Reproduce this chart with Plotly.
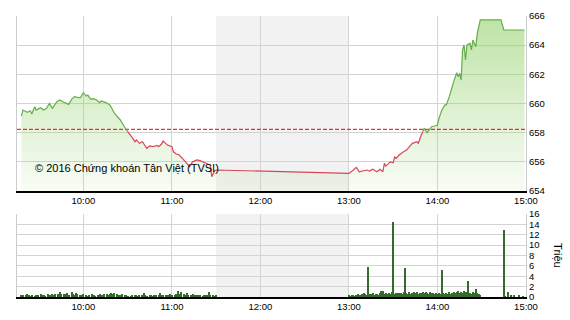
import pandas as pd
import plotly.graph_objects as go

DAY = "2016-06-01 "

# ---- price (index) series ----
price_times = [
    "09:18", "09:19", "09:22", "09:24", "09:25", "09:27", "09:28", "09:31", "09:33", "09:35",
    "09:37", "09:39", "09:42", "09:44", "09:46", "09:50", "09:52", "09:54", "09:56", "09:58",
    "10:00", "10:02", "10:03", "10:05", "10:07", "10:09", "10:11", "10:12", "10:15", "10:18",
    "10:21", "10:25", "10:28", "10:30", "10:31", "10:33", "10:35", "10:36", "10:38", "10:40",
    "10:43", "10:45", "10:47", "10:50", "10:51", "10:53", "10:54", "10:56", "10:57", "11:00",
    "11:01", "11:03", "11:05", "11:08", "11:10", "11:12", "11:14", "11:17", "11:19", "11:21",
    "11:23", "11:26", "11:27", "11:29", "11:30",
    "13:00", "13:03", "13:05", "13:07", "13:10", "13:12", "13:14", "13:16", "13:19", "13:21",
    "13:23", "13:24", "13:25", "13:28", "13:30", "13:31", "13:32", "13:34", "13:37", "13:39",
    "13:41", "13:43", "13:46", "13:47", "13:49", "13:50", "13:51", "13:53", "13:56", "13:58",
    "14:00", "14:01", "14:03", "14:05", "14:06", "14:08", "14:09", "14:10", "14:11", "14:13",
    "14:14", "14:15", "14:16", "14:17", "14:18", "14:19", "14:20", "14:22", "14:23", "14:24",
    "14:26", "14:27", "14:29", "14:43", "14:45", "14:59",
]
price_values = [
    659.14, 659.55, 659.40, 659.50, 659.28, 659.78, 659.55, 659.71, 659.55, 659.67,
    660.01, 659.67, 660.12, 660.24, 660.12, 659.94, 660.29, 660.47, 660.42, 660.40,
    660.74, 660.51, 660.58, 660.29, 660.33, 660.24, 660.06, 660.17, 660.08, 659.90,
    659.33, 658.87, 658.37, 658.07, 657.96, 657.68, 657.38, 657.50, 657.27, 657.38,
    656.93, 657.09, 657.04, 657.13, 657.04, 657.22, 657.43, 657.22, 657.15, 657.04,
    656.69, 656.54, 656.47, 656.13, 655.90, 655.67, 656.00, 656.13, 656.08, 656.00,
    655.90, 655.78, 654.98, 655.39, 655.44,
    655.21, 655.44, 655.62, 655.32, 655.39, 655.44, 655.37, 655.49, 655.32, 655.49,
    655.32, 655.90, 655.71, 656.00, 655.94, 656.35, 656.24, 656.47, 656.69, 656.81,
    657.04, 657.27, 657.38, 657.27, 657.84, 658.07, 658.30, 658.00, 658.41, 658.46,
    658.52, 658.98, 659.55, 659.90, 659.90, 660.47, 660.93, 661.15, 661.50, 662.11,
    661.84, 662.07, 661.61, 663.67, 664.01, 662.98, 664.01, 664.13, 663.67, 664.35,
    663.90, 664.81, 665.73, 665.73, 665.04, 665.04,
]
reference_value = 658.23

# ---- volume (million shares) ----
vol_morning_start = "09:18"
vol_morning = [
    0.3, 0.4, 0.0, 0.3, 0.5, 0.3, 0.2, 0.4, 0.0, 0.2,
    0.4, 0.3, 0.0, 0.5, 0.3, 0.4, 0.2, 0.0, 0.5, 0.4,
    0.3, 0.6, 0.4, 0.5, 0.0, 0.6, 0.9, 0.5, 0.0, 0.6,
    0.5, 0.7, 0.4, 0.0, 1.0, 0.5, 0.4, 0.8, 0.5, 0.0,
    0.4, 0.3, 0.5, 0.0, 0.3, 0.2, 0.4, 0.0, 0.5, 0.3,
    0.2, 0.0, 0.3, 0.5, 0.4, 0.3, 0.6, 0.0, 0.5, 0.3,
    0.6, 0.8, 0.5, 0.7, 0.0, 0.5, 0.3, 0.4, 0.6, 0.0,
    0.3, 0.4, 0.2, 0.0, 0.2, 0.3, 0.0, 0.3, 0.4, 0.2,
    0.3, 0.0, 0.3, 0.7, 0.3, 0.2, 0.0, 0.3, 0.3, 0.2,
    0.4, 0.3, 0.0, 0.3, 0.8, 0.4, 0.3, 0.0, 0.3, 0.4,
    0.3, 0.5, 0.4, 0.0, 0.4, 0.6, 1.1, 0.5, 1.0, 0.0,
    0.5, 0.3, 0.8, 0.4, 0.0, 0.3, 0.6, 0.4, 0.3, 0.0,
    0.3, 0.4, 0.0, 0.2, 0.3, 0.4, 0.3, 1.0, 0.3, 0.0,
    0.3, 0.2, 0.4,
]
vol_afternoon_start = "13:00"
vol_afternoon = [
    0.3, 0.2, 0.3, 0.4, 0.2, 0.3, 0.5, 0.3, 0.4, 0.6,
    0.8, 0.5, 0.4, 5.8, 0.6, 0.5, 0.7, 0.4, 0.6, 0.5,
    0.4, 0.7, 1.2, 1.1, 0.6, 0.8, 0.5, 0.7, 0.6, 0.9,
    14.45, 0.6, 0.8, 0.7, 0.7, 0.8, 0.6, 0.9, 5.6, 0.7,
    0.5, 0.9, 0.6, 0.8, 1.0, 0.7, 0.9, 0.6, 0.8, 0.7,
    0.9, 0.7, 1.0, 0.8, 0.6, 0.9, 0.7, 0.8, 0.6, 0.7,
    0.6, 0.8, 0.5, 5.2, 0.7, 0.6, 0.8, 0.5, 0.9, 0.6,
    0.7, 1.0, 0.8, 0.9, 1.1, 0.7, 1.0, 0.8, 1.2, 0.9,
    1.0, 3.1, 0.8, 0.6, 1.0, 0.7, 1.55, 0.8, 0.5, 0.4,
]
vol_close_times = ["14:45", "14:46", "14:48", "14:50", "14:52", "14:55", "14:58"]
vol_close = [12.9, 0.2, 1.0, 0.3, 0.3, 0.3, 0.2]

hour_ticks = ["10:00", "11:00", "12:00", "13:00", "14:00", "15:00"]
price_ticks = [654, 656, 658, 660, 662, 664, 666]
volume_ticks = [0, 2, 4, 6, 8, 10, 12, 14, 16]

# ---- build ----
px = pd.to_datetime([DAY + t for t in price_times])
pv = price_values
n = len(pv)
above = [v >= reference_value for v in pv]
green_y, red_y = [], []
for i in range(n):
    g = above[i] or (i > 0 and above[i - 1]) or (i < n - 1 and above[i + 1])
    green_y.append(pv[i] if g else None)
    red_y.append(pv[i] if not above[i] else None)

vx = list(pd.date_range(DAY + vol_morning_start, periods=len(vol_morning), freq="min"))
vx += list(pd.date_range(DAY + vol_afternoon_start, periods=len(vol_afternoon), freq="min"))
vx += list(pd.to_datetime([DAY + t for t in vol_close_times]))
vy = vol_morning + vol_afternoon + vol_close

FONT = "Liberation Sans, Arial, sans-serif"
GRID = "#d4d4d4"
TICKFONT = dict(family=FONT, size=9.5, color="#000")
x_range = [DAY + "09:15", DAY + "15:00"]
tickvals = [DAY + t for t in hour_ticks]

fig = go.Figure()
fig.add_trace(go.Scatter(
    x=px, y=pv, mode="lines", line=dict(width=0), fill="tozeroy",
    fillgradient=dict(type="vertical", start=654, stop=666,
                      colorscale=[[0, "rgba(150,210,110,0.06)"], [1, "rgba(150,210,110,0.62)"]]),
    hoverinfo="skip", showlegend=False, xaxis="x", yaxis="y"))
fig.add_trace(go.Scatter(
    x=x_range, y=[reference_value, reference_value], mode="lines",
    line=dict(color="#ee0000", width=1, dash="4px,2px"), showlegend=False,
    xaxis="x", yaxis="y"))
fig.add_trace(go.Scatter(x=px, y=red_y, mode="lines", connectgaps=False,
                         line=dict(color="#d8455c", width=1.2), showlegend=False,
                         xaxis="x", yaxis="y"))
fig.add_trace(go.Scatter(x=px, y=green_y, mode="lines", connectgaps=False,
                         line=dict(color="#64ad4b", width=1.2), showlegend=False,
                         xaxis="x", yaxis="y"))
fig.add_trace(go.Bar(x=vx, y=vy, width=40000, marker=dict(color="#356b2c", line=dict(width=0)),
                     showlegend=False, xaxis="x2", yaxis="y2"))

# lunch-break shading
for xr, yref in [("x", "y domain"), ("x2", "y2 domain")]:
    fig.add_shape(type="rect", xref=xr, yref=yref,
                  x0=DAY + "11:30", x1=DAY + "13:00", y0=0, y1=1,
                  fillcolor="#f2f2f2", line=dict(width=0), layer="below")

axis_common = dict(range=x_range, type="date", tickvals=tickvals, ticktext=hour_ticks,
                   showgrid=True, gridcolor=GRID, gridwidth=1, showline=True,
                   linecolor="black", linewidth=1.5, ticks="", zeroline=False,
                   automargin=False, tickfont=TICKFONT)
yaxis_common = dict(side="right", showgrid=True, gridcolor=GRID, zeroline=False,
                    showline=True, mirror=True, linecolor="#cccccc", linewidth=1,
                    ticks="", automargin=False, tickfont=TICKFONT)
fig.update_layout(
    width=570, height=320, margin=dict(l=17, r=44, t=16, b=23, autoexpand=False),
    paper_bgcolor="white", plot_bgcolor="white", bargap=0,
    xaxis=dict(domain=[0, 1], anchor="y", **axis_common),
    xaxis2=dict(domain=[0, 1], anchor="y2", **axis_common),
    yaxis=dict(domain=[0.3772, 1], range=[654, 666], tickvals=price_ticks, **yaxis_common),
    yaxis2=dict(domain=[0, 0.2954], range=[0, 16], tickvals=volume_ticks, **yaxis_common),
    annotations=[
        dict(text="© 2016 Chứng khoán Tân Việt (TVSI)", xref="paper", yref="paper",
             x=0.0314, y=0.459, xanchor="left", yanchor="middle", showarrow=False,
             font=dict(family=FONT, size=11, color="#000")),
        dict(text="Triệu", xref="paper", yref="paper", x=1.063, y=0.149,
             xanchor="center", yanchor="middle", textangle=90, showarrow=False,
             font=dict(family=FONT, size=11, color="#000")),
    ],
)

fig.write_html("out.html")
